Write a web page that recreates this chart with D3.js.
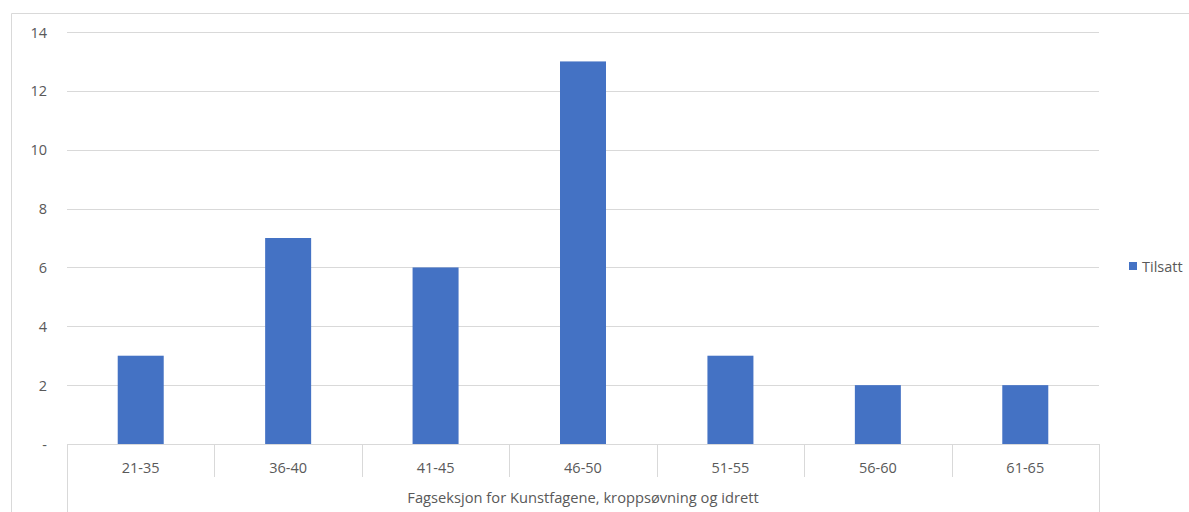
<!DOCTYPE html>
<html>
<head>
<meta charset="utf-8">
<script src="https://cdn.jsdelivr.net/npm/d3@7"></script>
<style>
  html, body { margin: 0; padding: 0; background: #fff; }
  svg text { font-family: "Open Sans", "Noto Sans", sans-serif; fill: #595959; }
</style>
</head>
<body>
<svg id="chart" width="1189" height="512"></svg>
<script>
// Age groups and number of hires per group
const categories = ["21-35", "36-40", "41-45", "46-50", "51-55", "56-60", "61-65"];
const tilsatt = [3, 7, 6, 13, 3, 2, 2];
const yTicks = [0, 2, 4, 6, 8, 10, 12, 14];
const groupLabel = "Fagseksjon for Kunstfagene, kroppsøvning og idrett";
const seriesName = "Tilsatt";

const svg = d3.select("#chart");
const plot = { left: 67, right: 1099, top: 32, bottom: 444 };
const gridColor = "#d9d9d9";
const barColor = "#4472c4";

// Outer chart frame (top and left edges visible)
svg.append("path")
  .attr("d", `M11.5,512 V13.5 H1189`)
  .attr("fill", "none")
  .attr("stroke", "#d9d9d9")
  .attr("stroke-width", 1);

const y = d3.scaleLinear().domain([0, 14]).range([plot.bottom, plot.top]);
const xCell = d3.scaleBand().domain(categories).range([plot.left, plot.right]).padding(0);
const xBar = d3.scaleBand().domain(categories).range([plot.left, plot.right])
  .paddingInner(0.688).paddingOuter(0.344);

// Horizontal gridlines
svg.append("g").selectAll("line").data(yTicks).join("line")
  .attr("x1", plot.left).attr("x2", plot.right)
  .attr("y1", d => Math.round(y(d)) + 0.5).attr("y2", d => Math.round(y(d)) + 0.5)
  .attr("stroke", gridColor).attr("stroke-width", 1);

// Y tick labels, zero shown as a dash
svg.append("g").selectAll("text").data(yTicks).join("text")
  .attr("x", 47).attr("y", d => y(d))
  .attr("text-anchor", "end").attr("dominant-baseline", "central")
  .attr("font-size", 14.5)
  .text(d => d === 0 ? "-" : d);

// Bars
svg.append("g").selectAll("rect").data(categories).join("rect")
  .attr("x", d => xBar(d))
  .attr("width", xBar.bandwidth())
  .attr("y", (d, i) => y(tilsatt[i]))
  .attr("height", (d, i) => y(0) - y(tilsatt[i]))
  .attr("fill", barColor);

// Category dividers under the axis
const bounds = categories.map(d => xCell(d)).concat([plot.right]);
svg.append("g").selectAll("line").data(bounds).join("line")
  .attr("x1", d => Math.round(d) + 0.5).attr("x2", d => Math.round(d) + 0.5)
  .attr("y1", plot.bottom)
  .attr("y2", (d, i) => (i === 0 || i === bounds.length - 1) ? 512 : 477)
  .attr("stroke", gridColor).attr("stroke-width", 1);

// Category labels
svg.append("g").selectAll("text").data(categories).join("text")
  .attr("x", d => xCell(d) + xCell.bandwidth() / 2)
  .attr("y", 467)
  .attr("text-anchor", "middle").attr("dominant-baseline", "central")
  .attr("font-size", 14.5)
  .text(d => d);

// Group label
svg.append("text")
  .attr("x", (plot.left + plot.right) / 2)
  .attr("y", 497)
  .attr("text-anchor", "middle").attr("dominant-baseline", "central")
  .attr("font-size", 14.7)
  .text(groupLabel);

// Legend
const legend = svg.append("g").attr("transform", "translate(1129,262)");
legend.append("rect").attr("width", 8).attr("height", 8).attr("fill", barColor);
legend.append("text").attr("x", 13).attr("y", 4)
  .attr("dominant-baseline", "central").attr("font-size", 14.5)
  .text(seriesName);
</script>
</body>
</html>
